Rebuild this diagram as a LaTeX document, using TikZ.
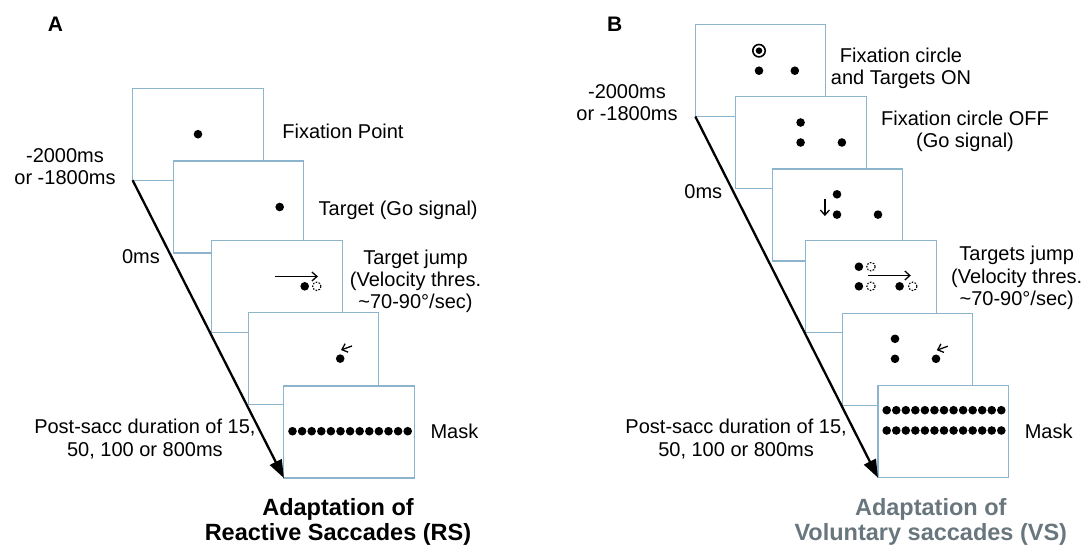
\documentclass[tikz,border=0pt]{standalone}
\usepackage{fontspec}
\setmainfont{Liberation Sans}
\usepackage{xcolor}
\usetikzlibrary{arrows.meta}

\definecolor{frameblue}{RGB}{140,180,205}
\definecolor{titlegray}{RGB}{105,118,126}

\begin{document}
\begin{tikzpicture}[x=1pt,y=-1pt,
        frm/.style={draw=frameblue,line width=1.1pt,fill=white,anchor=north west,
                    minimum width=130.5pt,minimum height=92pt,inner sep=0pt,outer sep=0pt},
        lbl/.style={font=\fontsize{20}{22.4}\selectfont,inner sep=0pt,align=center},
        ttl/.style={font=\fontsize{23.5}{25.2}\selectfont\bfseries,inner sep=0pt,align=center},
        time/.style={line width=2.3pt,-{Triangle[length=18pt,width=13pt]}},
        jump/.style={line width=1.3pt,-{Straight Barb[length=5pt,width=9pt]}},
        ghost/.style={draw=black,line width=1.1pt,dash pattern=on 1.6pt off 1.4pt}]
        \useasboundingbox (0,0) rectangle (1082,549);
        % panel A: reactive saccades
        \foreach \i/\px/\py in {1/132.6/88.2,2/173.1/161,3/211.9/240.1,4/248.2/312.6,5/283.9/386}
          \node[frm] (a\i) at (\px,\py) {};
        \begin{scope}[shift={(a1.north west)}]
          \fill (65.4,46) circle[radius=4.3pt];
        \end{scope}
        \begin{scope}[shift={(a2.north west)}]
          \fill (106.6,46) circle[radius=4.3pt];
        \end{scope}
        \begin{scope}[shift={(a3.north west)}]
          \draw[jump] (62.6,36.4) -- (106,36.4);
          \fill (92.8,46.2) circle[radius=4.3pt];
          \draw[ghost] (104.9,46.2) circle[radius=4.2pt];
        \end{scope}
        \begin{scope}[shift={(a4.north west)}]
          \fill (92,46) circle[radius=4.3pt];
          \draw[jump] (103.8,33.4) -- (92.8,37.4);
        \end{scope}
        \begin{scope}[shift={(a5.north west)}]
          \foreach \k in {0,...,12}
            \fill (8.6+\k*9.6,45.2) circle[radius=4.3pt];
        \end{scope}
        \draw[time] (a1.south west) -- (a5.south west);

        \node[ttl,font=\fontsize{21}{24}\selectfont\bfseries] (lettera) at (55.4,24.5) {A};
        \node[lbl] (starta) at (65,166.4) {-2000ms\\or -1800ms};
        \node[lbl] (zeroa) at (141,256.5) {0ms};
        \node[lbl,anchor=west] (fixa) at (282.2,131.6) {Fixation Point};
        \node[lbl,anchor=west] (goa) at (318.5,210) {Target (Go signal)};
        \node[lbl] (jumpa) at (415.5,281.4) {Target jump\\(Velocity thres.\\\textasciitilde70-90°/sec)};
        \node[lbl,anchor=west] (maska) at (430.3,431.2) {Mask};
        \node[lbl] (posta) at (144.9,439.1) {Post-sacc duration of 15,\\50, 100 or 800ms};
        \node[ttl] (titlea) at (338,521.9) {Adaptation of\\Reactive Saccades (RS)};

        % panel B: voluntary saccades
        \foreach \i/\px/\py in {1/695.3/24.5,2/735.9/96.3,3/772.1/169,4/805.8/240.5,5/842.2/313.3,6/878/385.7}
          \node[frm] (b\i) at (\px,\py) {};
        \begin{scope}[shift={(b1.north west)}]
          \draw[line width=1.6pt] (63.7,26.2) circle[radius=6.2pt];
          \fill (63.7,26.2) circle[radius=3.3pt];
          \fill (63.7,46.2) circle[radius=4.3pt];
          \fill (99.5,46.2) circle[radius=4.3pt];
        \end{scope}
        \begin{scope}[shift={(b2.north west)}]
          \fill (64.7,26.2) circle[radius=4.3pt];
          \fill (64.7,46.2) circle[radius=4.3pt];
          \fill (106,46.2) circle[radius=4.3pt];
        \end{scope}
        \begin{scope}[shift={(b3.north west)}]
          \draw[jump] (52.8,29.8) -- (52.8,47);
          \fill (64.9,25.3) circle[radius=4.3pt];
          \fill (64.9,45.6) circle[radius=4.3pt];
          \fill (105.9,45.6) circle[radius=4.3pt];
        \end{scope}
        \begin{scope}[shift={(b4.north west)}]
          \draw[jump] (62.2,35) -- (105,35);
          \foreach \dx/\dy in {53.1/26.2,53.1/45.8,93.8/45.8}
            \fill (\dx,\dy) circle[radius=4.3pt];
          \foreach \dx/\dy in {65.2/26.2,65.2/45.8,107/45.8}
            \draw[ghost] (\dx,\dy) circle[radius=4.2pt];
        \end{scope}
        \begin{scope}[shift={(b5.north west)}]
          \fill (52.8,25.5) circle[radius=4.3pt];
          \fill (52.8,45.5) circle[radius=4.3pt];
          \fill (93.8,45.5) circle[radius=4.3pt];
          \draw[jump] (105.6,32.9) -- (94.6,36.9);
        \end{scope}
        \begin{scope}[shift={(b6.north west)}]
          \foreach \k in {0,...,12}{
            \fill (8.7+\k*9.55,24.5) circle[radius=4.3pt];
            \fill (8.7+\k*9.55,44.8) circle[radius=4.3pt];
          }
        \end{scope}
        \draw[time] (b1.south west) -- (b6.south west);

        \node[ttl,font=\fontsize{21}{24}\selectfont\bfseries] (letterb) at (614.7,23.8) {B};
        \node[lbl] (startb) at (627,102.7) {-2000ms\\or -1800ms};
        \node[lbl] (zerob) at (703.3,191.8) {0ms};
        \node[lbl] (fixb) at (901,68.2) {Fixation circle\\and Targets ON};
        \node[lbl] (gob) at (965,131.4) {Fixation circle OFF\\(Go signal)};
        \node[lbl] (jumpb) at (1016.7,278) {Targets jump\\(Velocity thres.\\\textasciitilde70-90°/sec)};
        \node[lbl,anchor=west] (maskb) at (1024.6,431.2) {Mask};
        \node[lbl] (postb) at (736.1,439.1) {Post-sacc duration of 15,\\50, 100 or 800ms};
        \node[ttl,titlegray] (titleb) at (930.8,521.9) {Adaptation of\\Voluntary saccades (VS)};
      \end{tikzpicture}
\end{document}
